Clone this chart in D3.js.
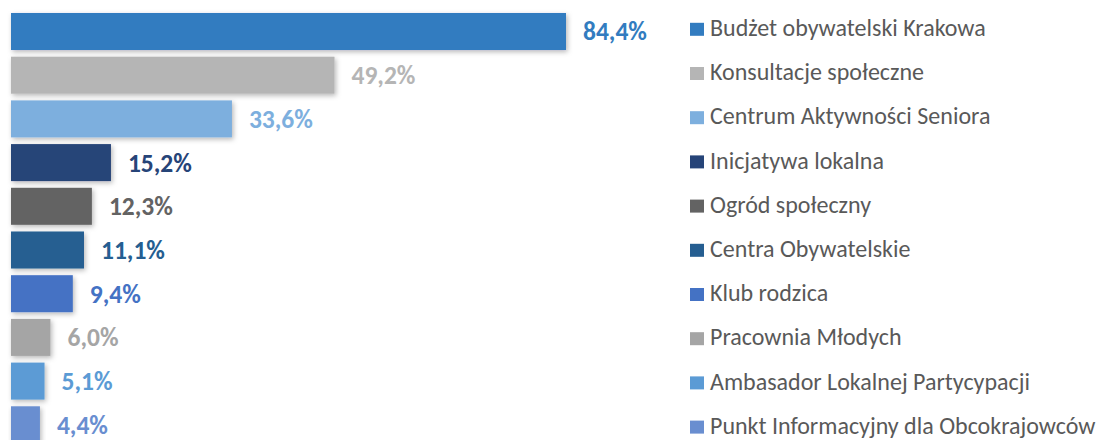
<!DOCTYPE html>
<html>
<head>
<meta charset="utf-8">
<script src="https://cdn.jsdelivr.net/npm/d3@7"></script>
<style>
  body { margin: 0; background: #fff; }
  svg { display: block; font-family: Carlito, Lato, "Open Sans", sans-serif; }
  .val { font-weight: 700; font-size: 25.5px; }
  .leg text { font-size: 24px; fill: #595959; }
</style>
</head>
<body>
<svg id="chart" width="1100" height="440"></svg>
<script>
const categories = [
  'Budżet obywatelski Krakowa',
  'Konsultacje społeczne',
  'Centrum Aktywności Seniora',
  'Inicjatywa lokalna',
  'Ogród społeczny',
  'Centra Obywatelskie',
  'Klub rodzica',
  'Pracownia Młodych',
  'Ambasador Lokalnej Partycypacji',
  'Punkt Informacyjny dla Obcokrajowców'
];
const values = [84.4, 49.2, 33.6, 15.2, 12.3, 11.1, 9.4, 6.0, 5.1, 4.4];
const colors = ['#327cc0', '#b5b5b5', '#7dafde', '#264478', '#636363',
  '#255e91', '#4472c4', '#a5a5a5', '#5b9bd5', '#698ed0'];

const svg = d3.select('#chart');

const x = d3.scaleLinear()
  .domain([0, 84.4])
  .range([11, 566]);

const y = d3.scaleBand()
  .domain(categories)
  .range([13 - 3.35, 13 - 3.35 + 43.7 * 10])
  .paddingInner(0.153)
  .paddingOuter(0.0765);

const legY = d3.scalePoint()
  .domain(categories)
  .range([29.3, 29.3 + 44.2 * 9]);

const fmt = v => d3.format('.1f')(v).replace('.', ',') + '%';

// soft shadow like the office chart
const defs = svg.append('defs');
const f = defs.append('filter')
  .attr('id', 'shadow')
  .attr('x', '-10%').attr('y', '-30%')
  .attr('width', '130%').attr('height', '170%');
f.append('feDropShadow')
  .attr('dx', 1.5).attr('dy', 2)
  .attr('stdDeviation', 2.5)
  .attr('flood-color', '#000')
  .attr('flood-opacity', 0.28);

const rows = categories.map((c, i) => ({ name: c, value: values[i], color: colors[i] }));

svg.append('g')
  .selectAll('rect')
  .data(rows)
  .enter()
  .append('rect')
    .attr('x', x(0))
    .attr('y', d => y(d.name))
    .attr('width', d => x(d.value) - x(0))
    .attr('height', y.bandwidth())
    .attr('fill', d => d.color)
    .attr('filter', 'url(#shadow)');

svg.append('g')
  .selectAll('text')
  .data(rows)
  .enter()
  .append('text')
    .attr('class', 'val')
    .attr('x', d => x(d.value) + 17)
    .attr('y', d => y(d.name) + y.bandwidth() / 2)
    .attr('dy', '0.35em')
    .attr('fill', d => d.color)
    .text(d => fmt(d.value));

const leg = svg.append('g')
  .attr('class', 'leg')
  .selectAll('g')
  .data(rows)
  .enter()
  .append('g')
    .attr('transform', d => `translate(690, ${legY(d.name)})`);

leg.append('rect')
  .attr('x', 0)
  .attr('y', -6.5)
  .attr('width', 14)
  .attr('height', 13)
  .attr('fill', d => d.color);

leg.append('text')
  .attr('x', 20)
  .attr('dy', '0.28em')
  .text(d => d.name);
</script>
</body>
</html>
